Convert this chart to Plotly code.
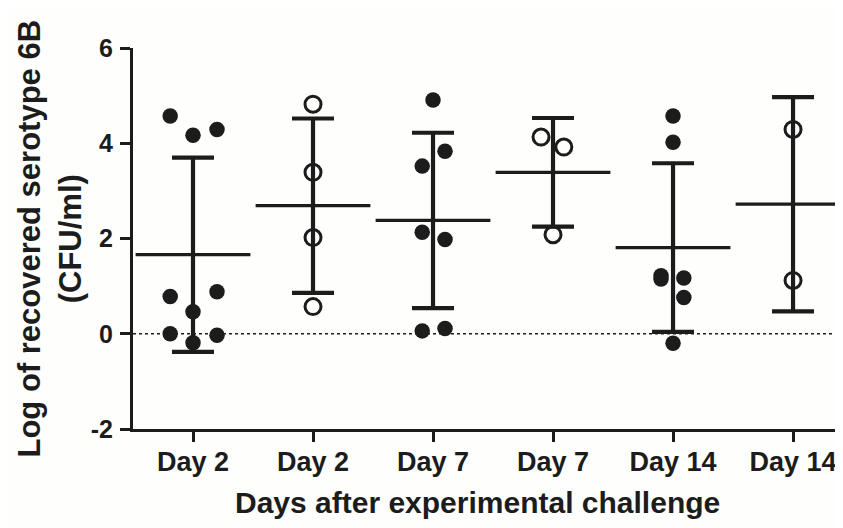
import plotly.graph_objects as go

# ---- data ----
tick_labels = ["Day 2", "Day 2", "Day 7", "Day 7", "Day 14", "Day 14"]
open_marker = [False, True, False, True, False, True]
y_tick_values = [-2, 0, 2, 4, 6]
y_tick_labels = ["-2", "0", "2", "4", "6"]

g1_values = [4.57, 4.17, 4.29, 0.78, 0.88, 0.46, 0.00, -0.03, -0.19]
g2_values = [4.82, 3.39, 2.02, 0.57]
g3_values = [4.91, 3.83, 3.52, 2.13, 1.98, 0.06, 0.11]
g4_values = [4.13, 3.92, 2.08]
g5_values = [4.57, 4.02, 1.22, 1.15, 1.17, 0.76, -0.20]
g6_values = [4.29, 1.12]

# horizontal scatter (jitter) of each point within its column
g1_jitter = [-0.19, 0.0, 0.2, -0.19, 0.2, 0.0, -0.19, 0.2, 0.0]
g2_jitter = [0.0, 0.0, 0.0, 0.0]
g3_jitter = [0.0, 0.1, -0.09, -0.09, 0.1, -0.09, 0.1]
g4_jitter = [-0.1, 0.09, 0.0]
g5_jitter = [0.0, 0.0, -0.1, -0.1, 0.09, 0.09, 0.0]
g6_jitter = [0.0, 0.0]

group_means = [1.66, 2.69, 2.38, 3.39, 1.81, 2.72]
group_sd = [2.04, 1.83, 1.84, 1.14, 1.77, 2.25]

groups = [g1_values, g2_values, g3_values, g4_values, g5_values, g6_values]
jitters = [g1_jitter, g2_jitter, g3_jitter, g4_jitter, g5_jitter, g6_jitter]

INK = "#1c1c1c"
FONT = "Liberation Sans, Arial, sans-serif"

fig = go.Figure()

# individual points
for i, (vals, jit) in enumerate(zip(groups, jitters)):
    xs = [i + j for j in jit]
    if open_marker[i]:
        marker = dict(symbol="circle-open", size=16, color=INK,
                      line=dict(width=3, color=INK))
    else:
        marker = dict(symbol="circle", size=15.5, color=INK,
                      line=dict(width=0))
    fig.add_trace(go.Scatter(x=xs, y=vals, mode="markers", marker=marker,
                             showlegend=False, hoverinfo="y"))

# mean line with SD error bars
xpos = list(range(len(tick_labels)))
fig.add_trace(go.Scatter(
    x=xpos, y=group_means, mode="markers",
    marker=dict(symbol="line-ew", size=82, color=INK,
                line=dict(width=3.2, color=INK)),
    error_y=dict(type="data", array=group_sd, symmetric=True,
                 color=INK, thickness=4.2, width=21),
    showlegend=False, hoverinfo="y"))

# dotted zero line
fig.add_shape(type="line", xref="paper", x0=0, x1=1, yref="y", y0=0, y1=0,
              line=dict(color=INK, width=1.5, dash="dot"), layer="below")

fig.update_layout(
    width=843, height=528,
    margin=dict(l=125, r=0, t=40, b=107),
    paper_bgcolor="#fefefc", plot_bgcolor="#fefefc",
    font=dict(family=FONT, color=INK),
    xaxis=dict(
        range=[-0.5, 5.483], tickmode="array", tickvals=xpos,
        ticktext=tick_labels, showgrid=False, zeroline=False,
        showline=True, linecolor=INK, linewidth=3,
        ticks="outside", ticklen=10, tickwidth=3, tickcolor=INK,
        tickfont=dict(family=FONT, size=27, color=INK, weight="bold"),
        ticklabelstandoff=-3,
    ),
    yaxis=dict(
        range=[-2, 6], tickmode="array", tickvals=y_tick_values,
        ticktext=y_tick_labels,
        showgrid=False, zeroline=False,
        showline=True, linecolor=INK, linewidth=3,
        ticks="outside", ticklen=10, tickwidth=3, tickcolor=INK,
        tickfont=dict(family=FONT, size=25, color=INK, weight="bold"),
        ticklabelstandoff=2,
    ),
    annotations=[
        dict(text="<b>Log of recovered serotype 6B<br>(CFU/ml)</b>",
             xref="paper", yref="paper", x=-0.1156, y=0.5,
             xanchor="center", yanchor="middle", textangle=-90,
             showarrow=False, font=dict(family=FONT, size=31, color=INK)),
        dict(text="<b>Days after experimental challenge</b>",
             xref="paper", yref="paper", x=0.4805, y=-0.194,
             xanchor="center", yanchor="middle",
             showarrow=False, font=dict(family=FONT, size=30, color=INK)),
    ],
)

fig.write_html("out.html")
